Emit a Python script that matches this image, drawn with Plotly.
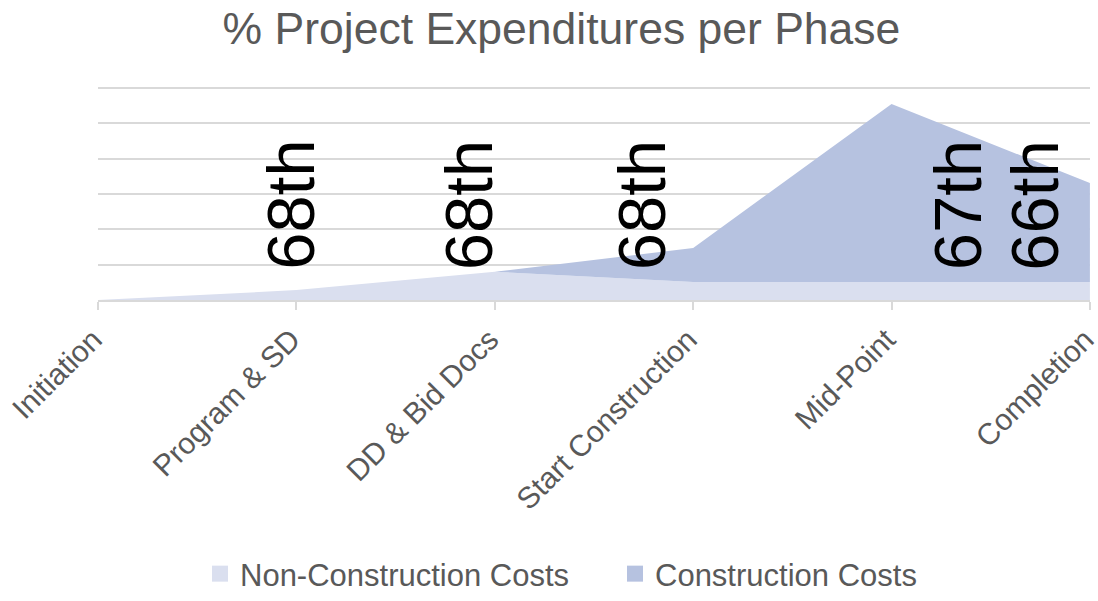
import plotly.graph_objects as go

phases = ["Initiation", "Program & SD", "DD & Bid Docs", "Start Construction", "Mid-Point", "Completion"]
non_construction = [0, 1.4, 4.0, 2.55, 2.55, 2.55]
construction = [0, 0, 0, 4.8, 25.2, 14.0]
rank_labels = ["68th", "68th", "68th", "67th", "66th"]

# layout-only placement of rank labels (category-axis units / y units)
rank_x = [0.97, 1.865, 2.737, 4.33, 4.72]
rank_y = 13.4

FONT = "Liberation Sans, Arial, Helvetica, sans-serif"
GREY = "#595959"
LIGHT = "#DADFEF"
DARK = "#B6C2E0"

xs = list(range(len(phases)))
fig = go.Figure()
fig.add_trace(go.Scatter(
    x=xs, y=non_construction, name="Non-Construction Costs",
    stackgroup="one", mode="none", fillcolor=LIGHT, line=dict(width=0),
    hoverinfo="skip", showlegend=False,
))
fig.add_trace(go.Scatter(
    x=xs, y=construction, name="Construction Costs",
    stackgroup="one", mode="none", fillcolor=DARK, line=dict(width=0),
    hoverinfo="skip", showlegend=False,
))
# legend entries as square swatches
for nm, col in [("Non-Construction Costs", LIGHT), ("Construction Costs", DARK)]:
    fig.add_trace(go.Scatter(
        x=[None], y=[None], name=nm, mode="markers",
        marker=dict(symbol="square", size=17, color=col), showlegend=True,
    ))

for txt, xv in zip(rank_labels, rank_x):
    fig.add_annotation(x=xv, y=rank_y, text=txt, textangle=-90, showarrow=False,
                       xanchor="center", yanchor="middle",
                       font=dict(family=FONT, size=67, color="#000000"))

fig.update_layout(
    width=1098, height=601,
    paper_bgcolor="white", plot_bgcolor="white",
    margin=dict(l=98, r=8, t=87, b=301, autoexpand=False),
    title=dict(text="% Project Expenditures per Phase", x=561.5 / 1098, xanchor="center",
               yref="container", y=1 - 28 / 601, yanchor="middle",
               font=dict(family=FONT, size=44.5, color=GREY)),
    showlegend=True,
    legend=dict(orientation="h", xref="container", x=(215 - 15) / 1098, xanchor="left",
                yref="container", y=0, yanchor="bottom", borderwidth=0,
                font=dict(family=FONT, size=31, color=GREY),
                entrywidth=370, entrywidthmode="pixels",
                traceorder="normal", itemsizing="trace"),
    xaxis=dict(
        tickmode="array", tickvals=xs, ticktext=phases,
        range=[-0.0005, len(phases) - 1 + 0.0005], tickangle=-45,
        tickfont=dict(family=FONT, size=30, color=GREY),
        ticklabeloverflow="allow", ticklabelshift=-5,
        showgrid=False, zeroline=False, automargin=False,
        showline=True, linecolor="#D9D9D9", linewidth=2,
        ticks="outside", ticklen=8, tickcolor="#D9D9D9", tickwidth=2,
    ),
    yaxis=dict(
        range=[0, 30.15], tickmode="array", tickvals=[0, 5, 10, 15, 20, 25, 30],
        showticklabels=False, automargin=False,
        showgrid=True, gridcolor="#D9D9D9", gridwidth=2,
        zeroline=False, showline=False,
    ),
)

fig.write_html("out.html", config={"displayModeBar": False},
               post_script="document.body.style.margin='0';document.body.style.padding='0';")
